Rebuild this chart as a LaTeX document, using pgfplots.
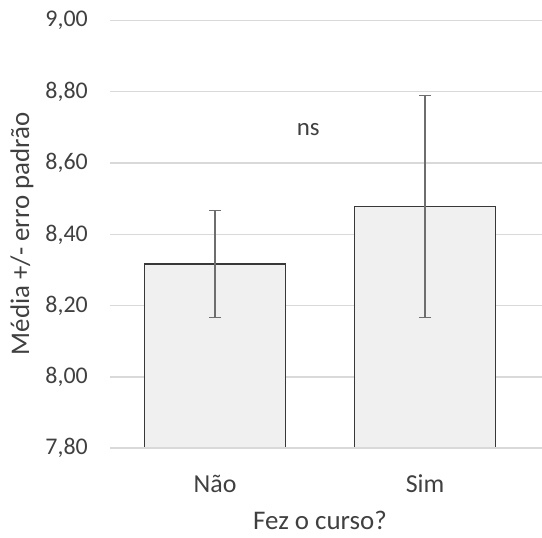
\documentclass[border=0pt]{standalone}
\usepackage{pgfplots}
\pgfplotsset{compat=1.18}
\usepackage{fontspec}
\setmainfont{Carlito}
\definecolor{txt}{RGB}{64,64,64}
\definecolor{gridc}{RGB}{217,217,217}
\definecolor{barfill}{RGB}{240,240,240}
\definecolor{barline}{RGB}{56,56,56}
\definecolor{errc}{RGB}{110,110,110}
\begin{document}
\begin{tikzpicture}[x=1bp,y=1bp]
\path[use as bounding box] (0,0) rectangle (542,538);
\begin{axis}[
  at={(110bp,89.7bp)}, anchor=south west,
  scale only axis, width=432bp, height=427.8bp,
  xmin=-0.5, xmax=1.557,
  ymin=7.8, ymax=9.0,
  ytick={7.8,8,8.2,8.4,8.6,8.8,9},
  xtick={0,1}, xticklabels={Não,Sim},
  axis line style={draw=none},
  major tick length=0pt,
  ymajorgrids, grid style={gridc, line width=1.2bp},
  /pgf/number format/.cd, fixed, fixed zerofill, precision=2, use comma, 1000 sep={}, assume math mode=true,
  /pgfplots/.cd,
  yticklabel style={font=\fontsize{24}{28}\selectfont, text=txt, anchor=east, inner sep=0pt, xshift=-22bp},
  xticklabel style={font=\fontsize{26}{30}\selectfont, text=txt, anchor=base, inner sep=0pt, yshift=-44.7bp},
  ybar, bar width=141bp,
]
\addplot[fill=barfill, draw=barline, line width=1.8bp,
  error bars/.cd, y dir=both, y explicit,
  error bar style={errc, line width=1.3bp},
  error mark options={errc, line width=1.3bp, rotate=90, mark size=6bp}]
  coordinates {(0,8.317) +- (0,0.150) (1,8.478) +- (0,0.311)};
\draw[gridc, line width=1.8bp] (axis cs:-0.5,7.8) -- (axis cs:1.557,7.8);
\node[text=txt, font=\fontsize{25}{29}\selectfont] at (axis cs:0.444,8.693) {ns};
\end{axis}
\node[anchor=base, inner sep=0pt, text=txt, font=\fontsize{27}{32}\selectfont] at (320,8) {Fez o curso?};
\node[rotate=90, text=txt, font=\fontsize{27}{32}\selectfont] at (22,304) {Média +/- erro padrão};
\end{tikzpicture}
\end{document}
